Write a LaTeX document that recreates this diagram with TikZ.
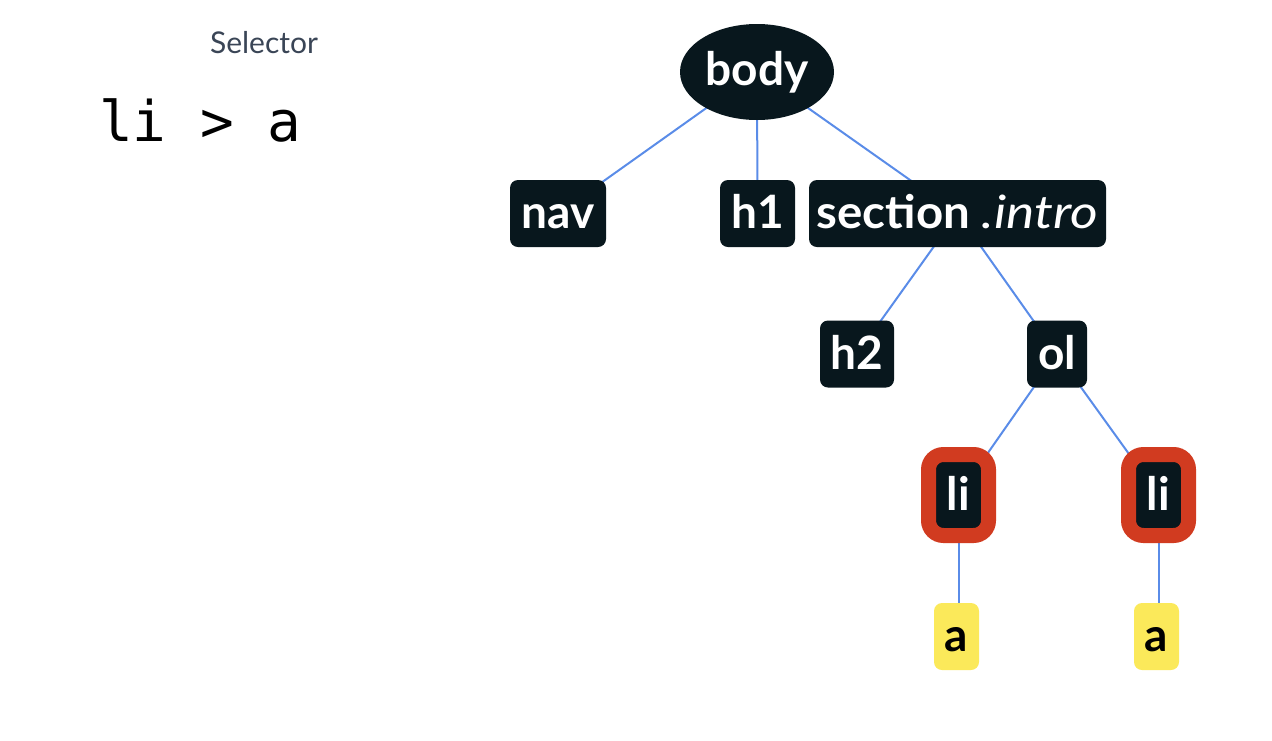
\documentclass[tikz,border=0pt]{standalone}
\usepackage{fontspec}
\usepackage{graphicx}
\setmainfont{Lato}
\newfontfamily\codefont{DejaVu Sans Mono}
\usetikzlibrary{shapes.geometric,backgrounds}
\definecolor{nodedark}{HTML}{08171D}
\definecolor{hilite}{HTML}{D13B20}
\definecolor{gold}{HTML}{FBE95A}
\definecolor{edgeblue}{HTML}{5A8CE8}
\definecolor{labelgray}{HTML}{3A4556}
\tikzset{
  base/.style={inner sep=0pt, text height=30pt, text depth=0pt, align=center,
    font=\fontsize{46}{50}\selectfont\bfseries},
  darkbox/.style={base, fill=nodedark, text=white, rounded corners=8pt, minimum height=67pt},
  libox/.style={base, fill=nodedark, text=white, draw=hilite, line width=15pt,
    rounded corners=15pt, minimum width=60pt, minimum height=81pt},
  abox/.style={base, fill=gold, text=black, rounded corners=8pt, minimum width=45pt, minimum height=67pt},
  rootnode/.style={base, text height=27pt, ellipse, fill=nodedark, text=white, minimum width=154pt, minimum height=96pt},
  edge/.style={draw=edgeblue, line width=2pt},
}
\begin{document}
\begin{tikzpicture}[x=1pt, y=-1pt]
\useasboundingbox (0,0) rectangle (1272,740);
\node[text=labelgray, font=\fontsize{30}{34}\selectfont, anchor=base] (sel) at (264,53) {Selector};
\node[font=\fontsize{56}{60}\codefont, anchor=base west, inner sep=0pt] (code) at (99,141) {li > a};

\node[rootnode] (body) at (757,72) {body};
\node[darkbox, minimum width=96pt] (nav) at (558,213.5) {nav};
\node[darkbox, minimum width=75pt] (h1) at (757.5,213.5) {h1};
\node[darkbox, minimum width=297pt] (sec) at (957.5,213.5) {\scalebox{1.03}[1]{section}\hspace{12pt}\scalebox{1.16}[1]{\mdseries\itshape .intro}};
\node[darkbox, minimum width=74pt] (h2) at (857,354) {h2};
\node[darkbox, minimum width=60pt] (ol) at (1057,354) {ol};
\node[libox] (li1) at (958.5,495) {li};
\node[libox] (li2) at (1158.5,495) {li};
\node[abox] (a1) at (956.5,636.5) {a};
\node[abox] (a2) at (1156.5,636.5) {a};

\begin{scope}[on background layer]
\draw[edge] (body.center) -- (nav.center);
\draw[edge] (body.center) -- (h1.center);
\draw[edge] (body.center) -- (sec.center);
\draw[edge] (sec.center) -- (h2.center);
\draw[edge] (sec.center) -- (ol.center);
\draw[edge] (ol.center) -- (li1.center);
\draw[edge] (ol.center) -- (li2.center);
\draw[edge] (li1.center) -- (li1.center |- a1.center);
\draw[edge] (li2.center) -- (li2.center |- a2.center);
\end{scope}
\end{tikzpicture}
\end{document}
